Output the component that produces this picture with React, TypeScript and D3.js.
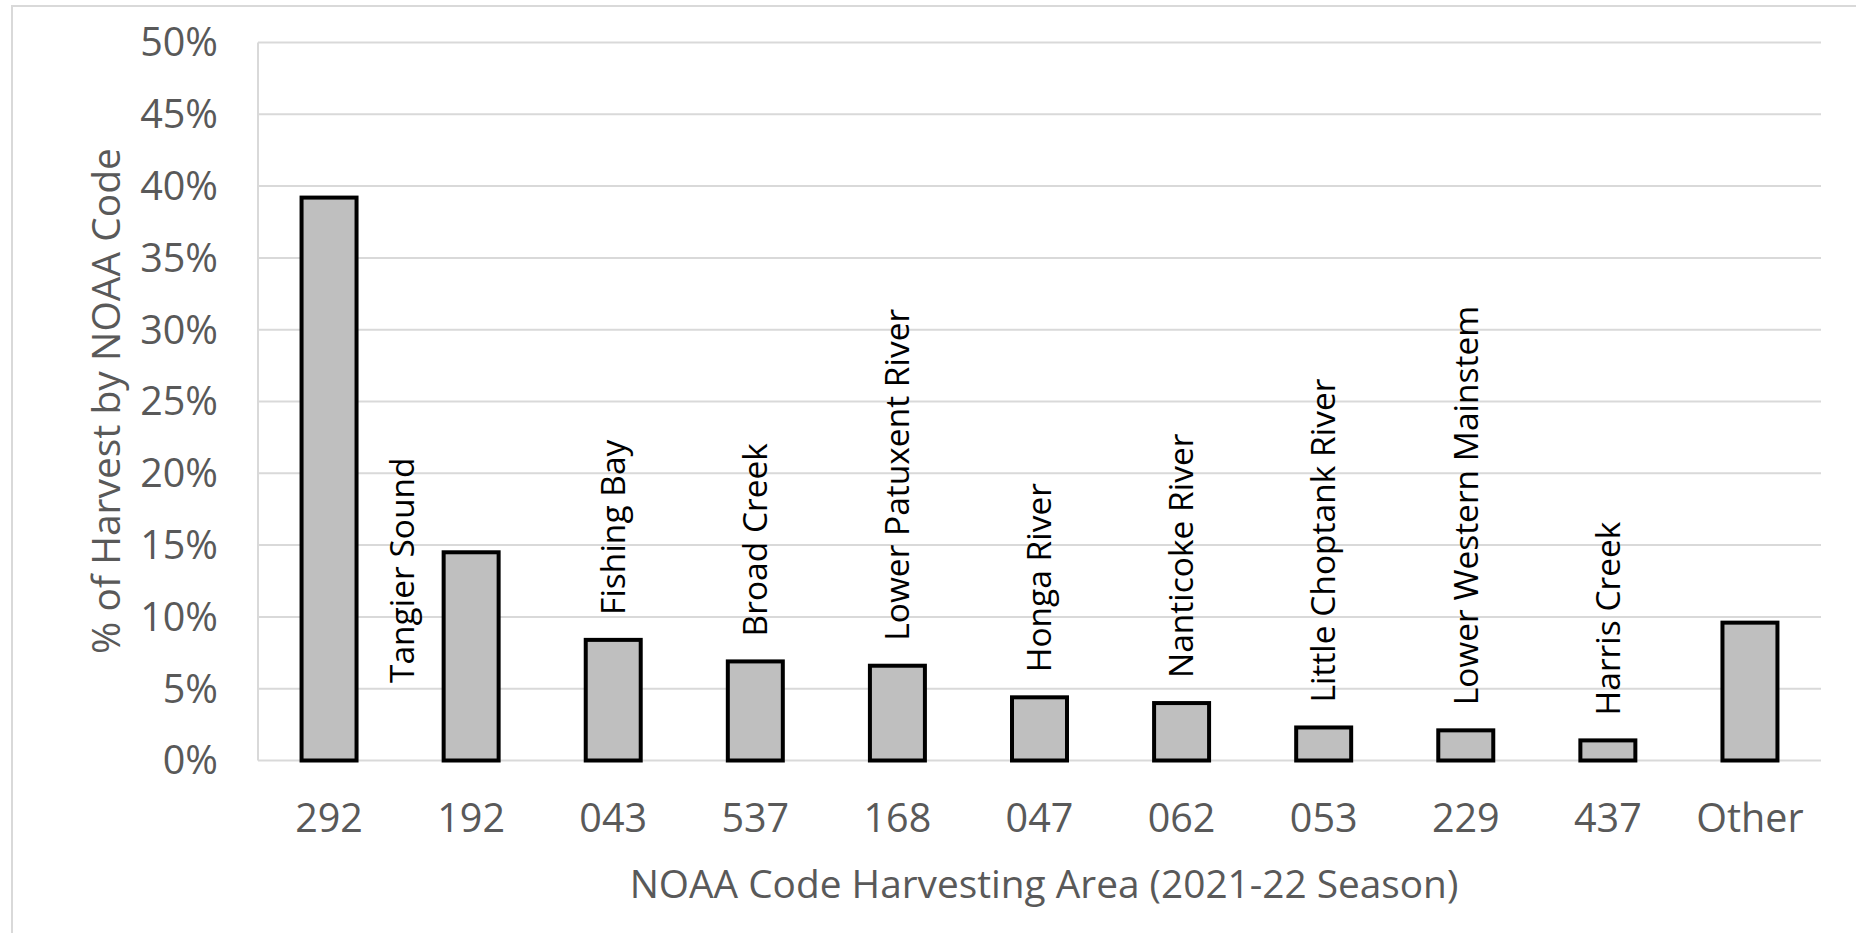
import React from "react";
import * as d3 from "d3";

const codes = ["292", "192", "043", "537", "168", "047", "062", "053", "229", "437", "Other"];
const shares = [39.2, 14.5, 8.4, 6.9, 6.6, 4.4, 4.0, 2.3, 2.1, 1.4, 9.6];
const areaNames = [
  "",
  "Tangier Sound",
  "Fishing Bay",
  "Broad Creek",
  "Lower Patuxent River",
  "Honga River",
  "Nanticoke River",
  "Little Choptank River",
  "Lower Western Mainstem",
  "Harris Creek",
  "",
];
const yTicks = [0, 5, 10, 15, 20, 25, 30, 35, 40, 45, 50];
const xTitle = "NOAA Code Harvesting Area (2021-22 Season)";
const yTitle = "% of Harvest by NOAA Code";

const W = 1856;
const H = 933;
const plot = { left: 258, right: 1821, top: 42.5, bottom: 760.5 };
const FONT = "'Open Sans', sans-serif";
const GRID = "#d9d9d9";
const TEXT = "#595959";

export default function App() {
  const x = d3
    .scaleBand<string>()
    .domain(codes)
    .range([plot.left, plot.right])
    .paddingInner(0.613)
    .paddingOuter(0.3065);
  const y = d3.scaleLinear().domain([0, 50]).range([plot.bottom, plot.top]);
  const labelGap = 25;
  // manually moved label for "Tangier Sound" (placed left of its bar)
  const tangierShift = { dx: -69, y: 683 };

  return (
    <svg
      width={W}
      height={H}
      style={{ position: "absolute", left: 0, top: 0, background: "#fff" }}
      fontFamily={FONT}
    >
      <rect x={0} y={0} width={W} height={H} fill="#fff" />
      <rect x={12} y={6} width={W} height={H} fill="none" stroke={GRID} strokeWidth={2} />
      {yTicks.map((t) => (
        <g key={t}>
          <line x1={plot.left} x2={plot.right} y1={y(t)} y2={y(t)} stroke={GRID} strokeWidth={2} />
          <text
            x={218}
            y={y(t)}
            dy="0.35em"
            textAnchor="end"
            fontSize={39.5}
            fill={TEXT}
          >
            {t}%
          </text>
        </g>
      ))}
      <line x1={plot.left} x2={plot.left} y1={plot.top} y2={plot.bottom} stroke={GRID} strokeWidth={2} />
      {codes.map((c, i) => {
        const bx = x(c)!;
        const bw = x.bandwidth();
        const cx = bx + bw / 2;
        const top = y(shares[i]);
        const name = areaNames[i];
        let lx = cx;
        let ly = top - labelGap;
        if (name === "Tangier Sound") {
          lx = cx + tangierShift.dx;
          ly = tangierShift.y;
        }
        return (
          <g key={c}>
            <rect
              x={bx}
              y={top}
              width={bw}
              height={plot.bottom - top}
              fill="#bfbfbf"
              stroke="#000"
              strokeWidth={4}
            />
            <text x={cx} y={818} dy="0.35em" textAnchor="middle" fontSize={39.5} fill={TEXT}>
              {c}
            </text>
            {name && (
              <text
                transform={`translate(${lx},${ly}) rotate(-90)`}
                dy="0.35em"
                textAnchor="start"
                fontSize={33.5}
                fill="#000"
              >
                {name}
              </text>
            )}
          </g>
        );
      })}
      <text x={1044} y={884} dy="0.35em" textAnchor="middle" fontSize={38.8} fill={TEXT}>
        {xTitle}
      </text>
      <text
        transform={`translate(106,401) rotate(-90)`}
        dy="0.35em"
        textAnchor="middle"
        fontSize={39}
        fill={TEXT}
      >
        {yTitle}
      </text>
    </svg>
  );
}
